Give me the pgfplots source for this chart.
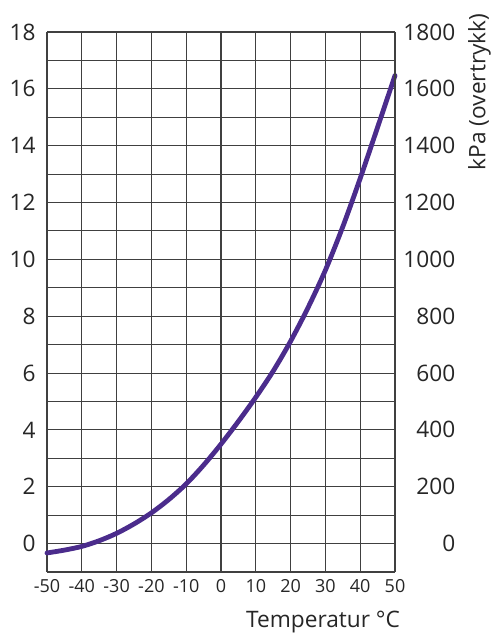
\documentclass[border=0pt]{standalone}
\usepackage{fontspec}
\setmainfont{Open Sans}
\usepackage{pgfplots}
\pgfplotsset{compat=1.18}
\definecolor{curve}{HTML}{4B2C8C}
\definecolor{gridc}{HTML}{404040}
\begin{document}
\begin{tikzpicture}
\begin{axis}[
  name=main,
  scale only axis,
  width=261pt, height=405pt,
  xmin=-50, xmax=50, ymin=-1, ymax=18,
  xtick={-50,-40,...,50},
  ytick={0,2,...,18},
  minor ytick={-1,1,...,17},
  grid=both,
  major grid style={gridc, line width=0.8pt},
  minor grid style={gridc, line width=0.8pt},
  axis line style={gridc, line width=0.8pt},
  major tick length=0pt, minor tick length=0pt,
  /pgf/number format/assume math mode=true,
  xticklabel style={font=\fontsize{13.5}{15}\selectfont, text=black!85, yshift=-2pt},
  yticklabel style={font=\fontsize{17}{19}\selectfont, text=black!85, xshift=-5pt},
  axis y line*=left,
  axis x line*=bottom,
  clip=false,
]
\addplot[curve, line width=3.6pt, smooth, line cap=round] coordinates {
(-50,-0.33) (-45,-0.23) (-40,-0.1) (-35,0.1) (-30,0.36) (-25,0.69) (-20,1.08)
(-15,1.55) (-10,2.1) (-5,2.76) (0,3.5) (5,4.3) (10,5.15) (15,6.07) (20,7.12)
(25,8.3) (30,9.62) (35,11.15) (40,12.85) (45,14.65) (50,16.47)
};
\node[anchor=north east, font=\fontsize{17}{19}\selectfont, text=black!85, inner sep=0pt]
  at (rel axis cs:1.015,0) [yshift=-29pt] {Temperatur °C};
\end{axis}
\begin{axis}[
  scale only axis,
  width=261pt, height=405pt,
  xmin=-50, xmax=50, ymin=-100, ymax=1800,
  axis x line=none,
  axis y line*=right,
  ytick={0,200,...,1800},
  major tick length=0pt,
  axis line style={gridc, line width=0.8pt},
  /pgf/number format/assume math mode=true,
  /pgf/number format/1000 sep={},
  yticklabel style={font=\fontsize{17}{19}\selectfont, text=black!85, anchor=west, text width=40pt, align=right, inner sep=0pt, xshift=5pt},
]
\end{axis}
\node[rotate=90, anchor=south, font=\fontsize{17}{19}\selectfont, text=black!85, inner sep=0pt]
  at ([xshift=72pt, yshift=-45pt]main.north east) {kPa (overtrykk)};
\pgfresetboundingbox
\path[use as bounding box] ([xshift=-35.25pt, yshift=-48.75pt]main.south west) rectangle ([xshift=78.75pt, yshift=24pt]main.north east);
\end{tikzpicture}
\end{document}
